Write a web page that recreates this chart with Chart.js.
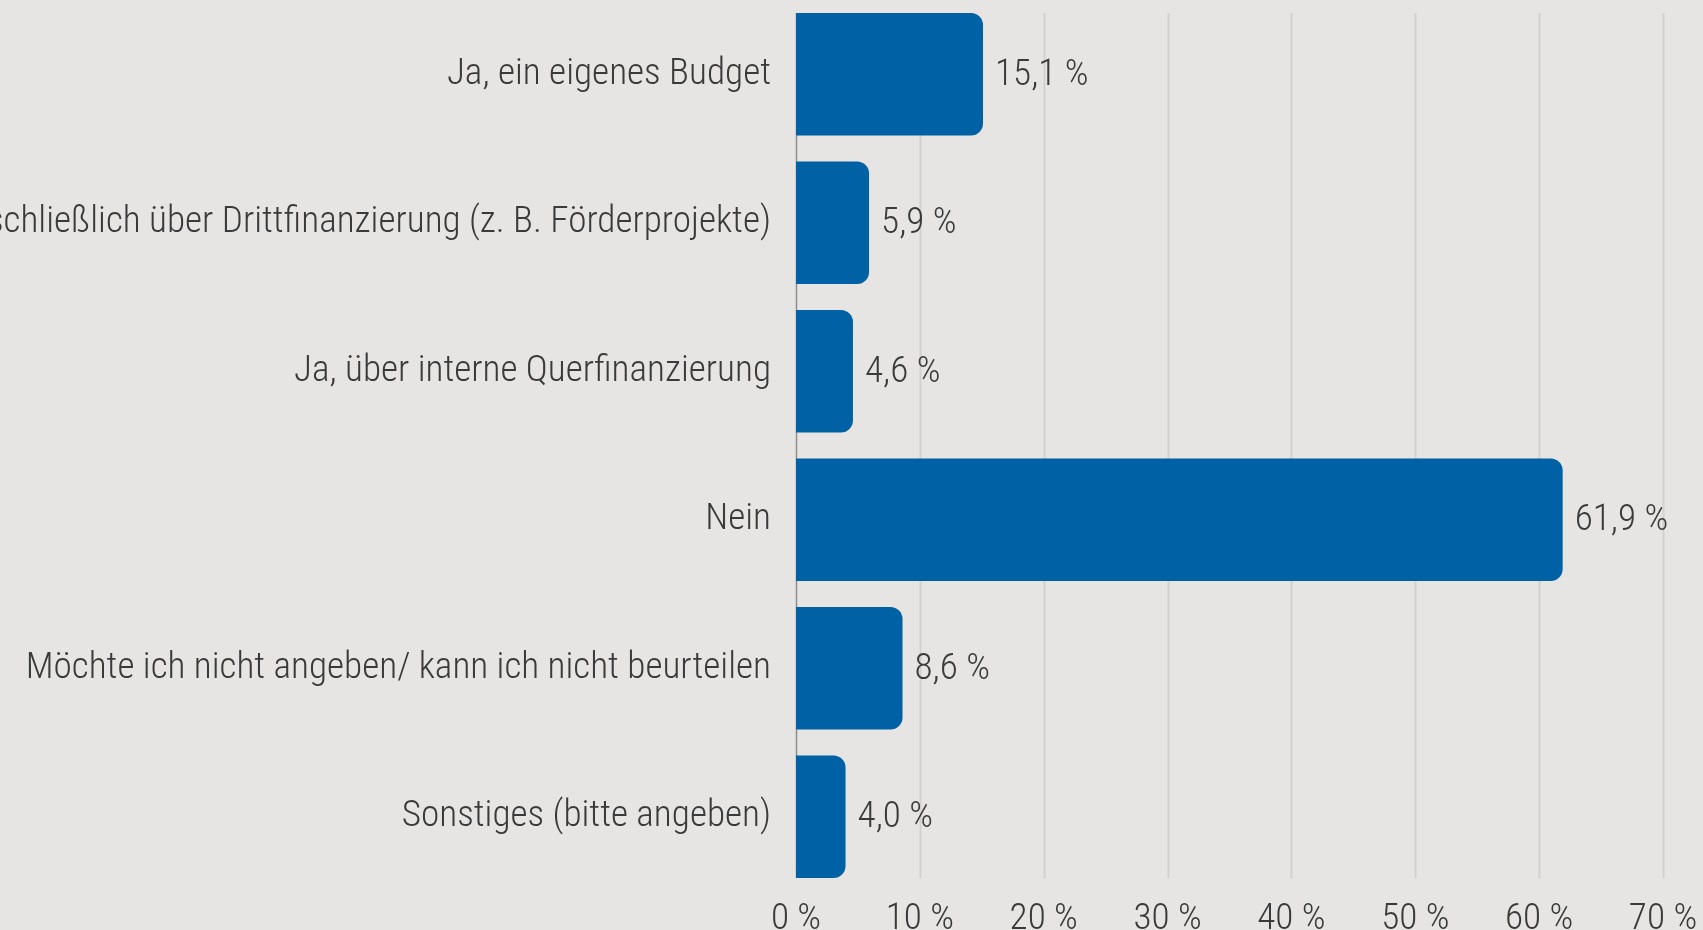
<!DOCTYPE html>
<html>
<head>
<meta charset="utf-8">
<script src="https://cdn.jsdelivr.net/npm/chart.js@4.4.1/dist/chart.umd.min.js"></script>
<style>
    html, body { margin: 0; padding: 0; background: #E6E5E3; }
    #wrap { width: 1703px; height: 930px; }
</style>
</head>
<body>
<div id="wrap"><canvas id="finanzierung"></canvas></div>
<script>
// Data
var categories = [
    'Ja, ein eigenes Budget',
    'Ja, ausschließlich über Drittfinanzierung (z. B. Förderprojekte)',
    'Ja, über interne Querfinanzierung',
    'Nein',
    'Möchte ich nicht angeben/ kann ich nicht beurteilen',
    'Sonstiges (bitte angeben)'
];
var shares = [15.1, 5.9, 4.6, 61.9, 8.6, 4.0];
var xTicks = [0, 10, 20, 30, 40, 50, 60, 70];

var barColor = '#0062A4';
var textColor = '#3A3A3A';
var gridColor = '#D2D1CF';

// find a narrow face if one is installed, the reference uses a condensed light font
function pickFont(list){
    var ctx = document.createElement('canvas').getContext('2d');
    var probe = 'Möchte ich nicht angeben';
    ctx.font = '300 40px monospace';
    var base = ctx.measureText(probe).width;
    for (var i = 0; i < list.length; i++){
        ctx.font = '300 40px "' + list[i] + '", monospace';
        if (ctx.measureText(probe).width !== base) return list[i];
    }
    return 'Roboto';
}
var family = pickFont(['Roboto Condensed', 'Liberation Sans Narrow', 'DejaVu Sans Condensed', 'Roboto']);

// size the font so the longest visible label is as wide as in the reference
var m = document.createElement('canvas').getContext('2d');
m.font = '300 100px "' + family + '"';
var fontSize = Math.round(746 / m.measureText(categories[4]).width * 1000) / 10;
if (fontSize > 39) fontSize = 39;

function pct(v){
    return v.toFixed(1).replace('.', ',') + ' %';
}

// grid lines and the zero line only span from the first bar top to the last bar bottom
var gridPlugin = {
    id: 'shortGrid',
    beforeDatasetsDraw: function(chart){
        var bars = chart.getDatasetMeta(0).data;
        var top = bars[0].y - bars[0].height / 2;
        var bottom = bars[bars.length - 1].y + bars[bars.length - 1].height / 2;
        var x = chart.scales.x;
        var ctx = chart.ctx;
        ctx.save();
        xTicks.forEach(function(t){
            var px = Math.round(x.getPixelForValue(t)) + 0.5;
            ctx.strokeStyle = t === 0 ? '#8E8E8E' : gridColor;
            ctx.lineWidth = t === 0 ? 1.5 : 2;
            ctx.beginPath();
            ctx.moveTo(px, top);
            ctx.lineTo(px, bottom);
            ctx.stroke();
        });
        ctx.restore();
    }
};

// value labels right of each bar
var valuePlugin = {
    id: 'valueLabels',
    afterDatasetsDraw: function(chart){
        var ctx = chart.ctx;
        ctx.save();
        ctx.font = '300 ' + fontSize + 'px "' + family + '"';
        ctx.fillStyle = textColor;
        ctx.textAlign = 'left';
        ctx.textBaseline = 'middle';
        chart.getDatasetMeta(0).data.forEach(function(bar, i){
            ctx.fillText(pct(shares[i]), bar.x + 12, bar.y + 1);
        });
        ctx.restore();
    }
};

var chart = new Chart(document.getElementById('finanzierung'), {
    type: 'bar',
    data: {
        labels: categories,
        datasets: [{
            data: shares,
            backgroundColor: barColor,
            borderWidth: 0,
            borderRadius: { topRight: 12, bottomRight: 12, topLeft: 0, bottomLeft: 0 },
            borderSkipped: false,
            categoryPercentage: 1.0,
            barPercentage: 0.826
        }]
    },
    options: {
        indexAxis: 'y',
        responsive: true,
        maintainAspectRatio: false,
        animation: false,
        layout: { padding: { top: 0, right: 40, bottom: 0, left: 0 } },
        plugins: {
            legend: { display: false },
            tooltip: { enabled: false }
        },
        scales: {
            x: {
                min: 0,
                max: 70,
                grid: { display: false, drawTicks: false },
                border: { display: false },
                afterFit: function(scale){
                    scale.height = 39;
                    scale.paddingLeft = 0;
                    scale.paddingRight = 0;
                },
                afterBuildTicks: function(scale){
                    scale.ticks = xTicks.map(function(v){ return { value: v }; });
                },
                ticks: {
                    padding: 6,
                    color: textColor,
                    font: { family: family, size: fontSize, weight: '300' },
                    maxRotation: 0,
                    callback: function(v){ return v + ' %'; }
                }
            },
            y: {
                grid: { display: false, drawTicks: false },
                border: { display: false },
                afterFit: function(scale){
                    scale.width = 796;
                    scale.paddingTop = 0;
                    scale.paddingBottom = 0;
                },
                ticks: {
                    padding: 25,
                    color: textColor,
                    autoSkip: false,
                    font: { family: family, size: fontSize, weight: '300' }
                }
            }
        }
    },
    plugins: [gridPlugin, valuePlugin]
});
</script>
</body>
</html>
